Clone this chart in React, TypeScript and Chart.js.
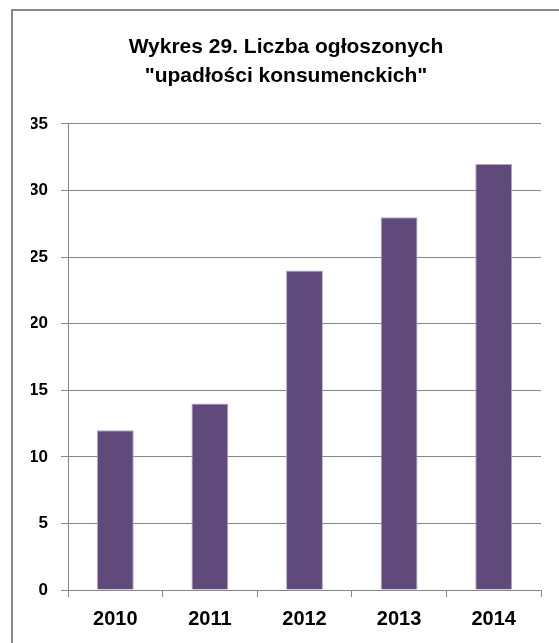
import React, { useEffect, useRef } from "react";
import { Chart, registerables } from "chart.js";

Chart.register(...registerables);

const titleLines = ["Wykres 29. Liczba ogłoszonych", "\"upadłości konsumenckich\""];
const categories = ["2010", "2011", "2012", "2013", "2014"];
const values = [12, 14, 24, 28, 32];
const yMin = 0;
const yMax = 35;
const yStep = 5;

const FONT = "'Liberation Sans', Arial, sans-serif";

export default function App() {
  const ref = useRef<HTMLCanvasElement | null>(null);

  useEffect(() => {
    if (!ref.current) return;
    const chart = new Chart(ref.current, {
      type: "bar",
      data: {
        labels: categories,
        datasets: [
          {
            data: values,
            backgroundColor: "#5f4a7b",
            borderColor: "#b4a7c8",
            borderWidth: 1,
            barPercentage: 0.39,
            categoryPercentage: 1,
          },
        ],
      },
      options: {
        responsive: false,
        animation: false,
        devicePixelRatio: 1,
        layout: { padding: { left: 31, right: 18, top: 0, bottom: 0 } },
        plugins: {
          legend: { display: false },
          tooltip: { enabled: false },
          title: {
            display: true,
            text: titleLines,
            color: "#000",
            font: { family: FONT, size: 21, weight: "bold", lineHeight: 1.38 },
            padding: { top: 33, bottom: 33 },
          },
        },
        scales: {
          x: {
            grid: {
              display: true,
              offset: true,
              drawOnChartArea: false,
              drawTicks: true,
              tickLength: 7,
              color: "#868686",
              lineWidth: 1,
            },
            border: { display: true, color: "#868686", width: 1 },
            ticks: {
              color: "#000",
              font: { family: FONT, size: 20, weight: "bold" },
              padding: 10,
              maxRotation: 0,
            },
            afterFit: (scale: any) => {
              scale.height = 53;
            },
          },
          y: {
            min: yMin,
            max: yMax,
            grid: {
              color: "#868686",
              lineWidth: 1,
              drawTicks: true,
              tickLength: 7,
            },
            border: { display: true, color: "#868686", width: 1 },
            ticks: {
              stepSize: yStep,
              color: "#000",
              font: { family: FONT, size: 17, weight: "bold" },
              padding: 13,
            },
            afterFit: (scale: any) => {
              scale.width = 37;
            },
          },
        },
      },
    });
    return () => chart.destroy();
  }, []);

  return (
    <div
      style={{
        position: "absolute",
        left: 0,
        top: 0,
        width: 559,
        height: 643,
        overflow: "hidden",
        background: "#fff",
      }}
    >
      <div
        style={{
          position: "absolute",
          left: 11,
          top: 9,
          width: 700,
          height: 800,
          border: "2px solid #898989",
        }}
      />
      <canvas
        ref={ref}
        width={559}
        height={643}
        style={{ position: "absolute", left: 0, top: 0 }}
      />
    </div>
  );
}
